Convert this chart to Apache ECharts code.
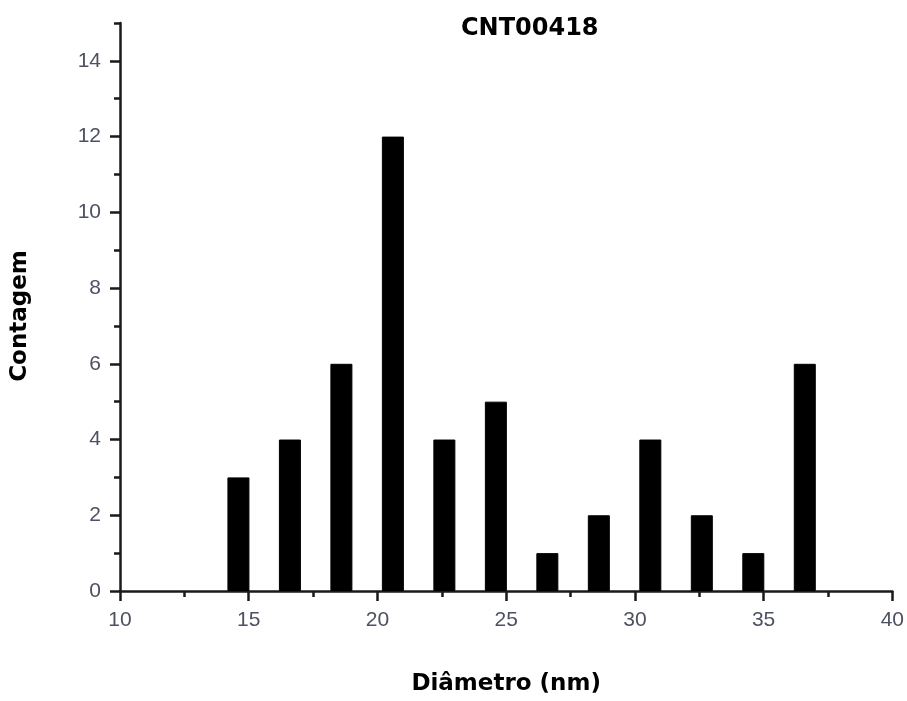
<!DOCTYPE html>
<html>
<head>
<meta charset="utf-8">
<script src="https://cdn.jsdelivr.net/npm/echarts@6/dist/echarts.min.js"></script>
<style>html,body{margin:0;padding:0;background:#fff}#c{width:907px;height:701px}</style>
</head>
<body>
<div id="c"></div>
<script>
const titleText = 'CNT00418';
const xName = 'Diâmetro (nm)';
const yName = 'Contagem';
const binCenters = [14.6, 16.6, 18.6, 20.6, 22.6, 24.6, 26.6, 28.6, 30.6, 32.6, 34.6, 36.6];
const counts = [3, 4, 6, 12, 4, 5, 1, 2, 4, 2, 1, 6];
const xTicks = [10, 15, 20, 25, 30, 35, 40];
const yTicks = [0, 2, 4, 6, 8, 10, 12, 14];
const yMinorTicks = [0,1,2,3,4,5,6,7,8,9,10,11,12,13,14,15];

const chart = echarts.init(document.getElementById('c'), null, {renderer: 'canvas'});
const labelColor = '#4d5262';
const axisColor = '#1a1a1a';
const nameFont = {fontFamily: 'DejaVu Sans', fontWeight: 'bold', fontSize: 23, color: '#000'};

chart.setOption({
  backgroundColor: '#fff',
  animation: false,
  title: {
    text: titleText, left: 461, top: 17, padding: 0,
    textStyle: Object.assign({}, nameFont, {fontSize: 24})
  },
  grid: {left: 120, right: 12, top: 23, bottom: 109, containLabel: false},
  xAxis: {
    type: 'value', min: 10, max: 40, interval: 5,
    name: xName, nameLocation: 'middle', nameGap: 82,
    nameTextStyle: nameFont,
    axisLine: {show: true, onZero: false, lineStyle: {color: axisColor, width: 2.5}},
    axisTick: {show: true, inside: false, length: 10, lineStyle: {color: axisColor, width: 2.5}},
    minorTick: {show: true, splitNumber: 2, length: 6, lineStyle: {color: axisColor, width: 2.5}},
    axisLabel: {margin: 19, color: labelColor, fontFamily: 'Liberation Sans', fontSize: 21,
      customValues: xTicks},
    splitLine: {show: false}
  },
  yAxis: [{
    type: 'value', min: 0, max: 15, interval: 1,
    name: yName, nameLocation: 'middle', nameGap: 88,
    nameTextStyle: Object.assign({}, nameFont, {padding: [0, 18, 0, 0]}),
    axisLine: {show: true, onZero: false, lineStyle: {color: axisColor, width: 2.5}},
    axisTick: {show: true, inside: false, length: 10, customValues: yTicks, lineStyle: {color: axisColor, width: 2.5}},
    axisLabel: {margin: 19, color: labelColor, fontFamily: 'Liberation Sans', fontSize: 21,
      customValues: yTicks},
    splitLine: {show: false}
  }, {
    type: 'value', min: 0, max: 15, interval: 1, position: 'left', offset: 0,
    axisLine: {show: false},
    axisTick: {show: true, inside: false, length: 6, customValues: yMinorTicks, lineStyle: {color: axisColor, width: 2.5}},
    axisLabel: {show: false},
    splitLine: {show: false}
  }],
  series: [{
    type: 'bar',
    xAxisIndex: 0, yAxisIndex: 0,
    barWidth: 22,
    data: binCenters.map((x, i) => [x, counts[i]]),
    itemStyle: {color: '#000', borderColor: '#000', borderWidth: 1}
  }]
});
</script>
</body>
</html>
